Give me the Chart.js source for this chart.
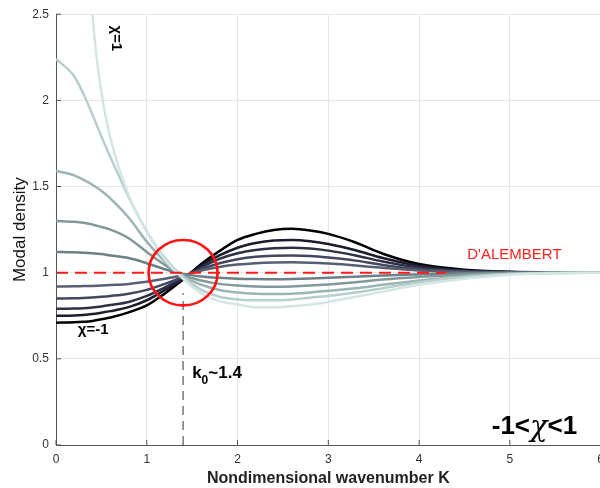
<!DOCTYPE html>
<html>
<head>
<meta charset="utf-8">
<script src="https://cdn.jsdelivr.net/npm/chart.js@4.4.1/dist/chart.umd.min.js"></script>
<style>
  html, body { margin: 0; padding: 0; background: #fff; overflow: hidden; width: 600px; height: 488px; }
  canvas { display: block; }
</style>
</head>
<body>
<canvas id="modal" width="611" height="488"></canvas>
<script>
// Wavenumber grid
const kGrid = [0, 0.2, 0.3, 0.4, 0.5, 0.6, 0.8, 1.0, 1.2, 1.4, 1.6, 1.8, 2.0, 2.2, 2.4, 2.6, 2.8, 3.0, 3.3, 3.6, 4.0, 4.5, 5.0, 5.5, 6.0];

// Modal density curves, one per chi
const chiM10 = [0.71, 0.712, 0.715, 0.72, 0.73, 0.74, 0.77, 0.81, 0.88, 0.96, 1.05, 1.125, 1.19, 1.225, 1.248, 1.255, 1.245, 1.225, 1.175, 1.11, 1.05, 1.017, 1.005, 1.001, 1.0];
const chiM08 = [0.75, 0.752, 0.755, 0.76, 0.768, 0.777, 0.80, 0.84, 0.90, 0.965, 1.04, 1.10, 1.145, 1.172, 1.187, 1.19, 1.183, 1.167, 1.13, 1.085, 1.04, 1.013, 1.004, 1.001, 1.0];
const chiM06 = [0.79, 0.792, 0.794, 0.798, 0.804, 0.812, 0.83, 0.865, 0.915, 0.97, 1.03, 1.08, 1.113, 1.132, 1.142, 1.145, 1.14, 1.128, 1.10, 1.065, 1.03, 1.01, 1.003, 1.001, 1.0];
const chiM04 = [0.85, 0.851, 0.853, 0.856, 0.86, 0.865, 0.878, 0.90, 0.935, 0.975, 1.02, 1.055, 1.078, 1.092, 1.098, 1.10, 1.097, 1.088, 1.07, 1.045, 1.02, 1.007, 1.002, 1.0, 1.0];
const chiM02 = [0.92, 0.921, 0.922, 0.923, 0.925, 0.928, 0.935, 0.947, 0.965, 0.985, 1.012, 1.033, 1.047, 1.055, 1.059, 1.06, 1.058, 1.053, 1.042, 1.028, 1.013, 1.004, 1.001, 1.0, 1.0];
const chiP02 = [1.12, 1.118, 1.116, 1.113, 1.108, 1.10, 1.085, 1.055, 1.02, 0.993, 0.978, 0.97, 0.965, 0.963, 0.962, 0.963, 0.966, 0.97, 0.977, 0.984, 0.99, 0.996, 0.999, 1.0, 1.0];
const chiP04 = [1.30, 1.295, 1.29, 1.28, 1.265, 1.25, 1.20, 1.12, 1.045, 0.985, 0.955, 0.935, 0.925, 0.92, 0.918, 0.92, 0.925, 0.932, 0.945, 0.96, 0.975, 0.99, 0.997, 0.999, 1.0];
const chiP06 = [1.59, 1.565, 1.54, 1.51, 1.475, 1.43, 1.32, 1.18, 1.065, 0.98, 0.93, 0.90, 0.885, 0.878, 0.876, 0.878, 0.885, 0.895, 0.91, 0.93, 0.955, 0.98, 0.993, 0.998, 1.0];
const chiP08 = [2.24, 2.14, 2.04, 1.92, 1.79, 1.67, 1.44, 1.24, 1.085, 0.975, 0.90, 0.86, 0.845, 0.84, 0.84, 0.845, 0.855, 0.865, 0.885, 0.91, 0.945, 0.975, 0.992, 0.998, 1.0];
const chiP10 = [null, null, 3.6, 2.52, 2.05, 1.78, 1.45, 1.24, 1.075, 0.965, 0.88, 0.835, 0.815, 0.80, 0.80, 0.805, 0.815, 0.83, 0.86, 0.89, 0.93, 0.965, 0.988, 0.997, 1.0];

const curves = [chiM10, chiM08, chiM06, chiM04, chiM02, chiP02, chiP04, chiP06, chiP08, chiP10];
const curveColors = ['#000000', '#1c1c2e', '#2e3046', '#41475e', '#575f72', '#6d7f87', '#82999b', '#9ab5b2', '#b6cfcc', '#d3e6e3'];

// Reference lines
const dalembertK = [0, 4.3];
const dalembertY = [1, 1];
const k0Line = [1.4, 1.4];
const k0LineY = [0, 0.88];

const xTicks = [0, 1, 2, 3, 4, 5, 6];
const yTicks = [0, 0.5, 1, 1.5, 2, 2.5];

const datasets = curves.map((vals, i) => ({
    data: kGrid.map((k, j) => ({ x: k, y: vals[j] })),
    borderColor: curveColors[i],
    borderWidth: 2.5,
    pointRadius: 0,
    fill: false,
    cubicInterpolationMode: 'monotone',
    order: curves.length - i + 1
}));

datasets.push({
    data: dalembertK.map((k, j) => ({ x: k, y: dalembertY[j] })),
    borderColor: '#ff1a1a',
    borderWidth: 2,
    borderDash: [12, 7],
    pointRadius: 0,
    order: 0
});
datasets.push({
    data: k0Line.map((k, j) => ({ x: k, y: k0LineY[j] })),
    borderColor: '#555555',
    borderWidth: 1.2,
    borderDash: [9, 6],
    pointRadius: 0,
    order: 0
});

const FONT = '"Liberation Sans", Arial, sans-serif';

// Annotations: circle, texts, inward ticks
const overlay = {
    id: 'overlay',
    afterDatasetsDraw(chart) {
        const ctx = chart.ctx;
        const xs = chart.scales.x, ys = chart.scales.y;
        const X = v => xs.getPixelForValue(v), Y = v => ys.getPixelForValue(v);

        // red circle around the crossing point
        ctx.save();
        ctx.strokeStyle = '#ff1414';
        ctx.lineWidth = 2.6;
        ctx.beginPath();
        ctx.ellipse(X(1.4), Y(1.0), X(1.4 + 0.38) - X(1.4), Y(1.0) - Y(1.0 + 0.19), 0, 0, Math.PI * 2);
        ctx.stroke();

        // inward ticks
        const area = chart.chartArea;
        ctx.strokeStyle = '#555';
        ctx.lineWidth = 1;
        xTicks.forEach(t => {
            ctx.beginPath(); ctx.moveTo(X(t), area.bottom); ctx.lineTo(X(t), area.bottom - 5); ctx.stroke();
        });
        yTicks.forEach(t => {
            ctx.beginPath(); ctx.moveTo(area.left, Y(t)); ctx.lineTo(area.left + 5, Y(t)); ctx.stroke();
        });

        // labels
        ctx.fillStyle = '#ff2020';
        ctx.font = '15px ' + FONT;
        ctx.textAlign = 'center';
        ctx.textBaseline = 'middle';
        ctx.fillText("D'ALEMBERT", X(5.05), Y(1.105));

        ctx.fillStyle = '#000';
        ctx.font = 'bold 15px ' + FONT;
        ctx.fillText('χ=-1', X(0.41), Y(0.67));

        ctx.save();
        ctx.translate(X(0.66), Y(2.36));
        ctx.rotate(Math.PI / 2);
        ctx.fillText('χ=1', 0, 0);
        ctx.restore();

        // k0~1.4
        ctx.textAlign = 'left';
        ctx.textBaseline = 'alphabetic';
        ctx.font = 'bold 17px ' + FONT;
        let x0 = X(1.5), y0 = Y(0.39);
        ctx.fillText('k', x0, y0);
        x0 += ctx.measureText('k').width;
        ctx.font = 'bold 12px ' + FONT;
        ctx.fillText('0', x0, y0 + 6);
        x0 += ctx.measureText('0').width;
        ctx.font = 'bold 17px ' + FONT;
        ctx.fillText('~1.4', x0, y0);

        // -1<chi<1
        ctx.textBaseline = 'middle';
        ctx.textAlign = 'left';
        let xr = X(4.8), yr = Y(0.105);
        ctx.font = 'bold 26px ' + FONT;
        ctx.fillText('-1<', xr, yr);
        xr += ctx.measureText('-1<').width;
        ctx.font = 'italic 29px "DejaVu Serif", serif';
        ctx.fillText('χ', xr, yr + 2);
        xr += ctx.measureText('χ').width;
        ctx.font = 'bold 26px ' + FONT;
        ctx.fillText('<1', xr, yr);
        ctx.restore();
    }
};

new Chart(document.getElementById('modal').getContext('2d'), {
    type: 'line',
    data: { datasets: datasets },
    options: {
        responsive: false,
        animation: false,
        layout: { padding: { top: 14, right: 0, left: 10, bottom: 0 } },
        plugins: {
            legend: { display: false },
            tooltip: { enabled: false }
        },
        scales: {
            x: {
                type: 'linear',
                min: 0,
                max: 6,
                afterFit: s => { s.height = 43; },
                afterBuildTicks: s => { s.ticks = xTicks.map(v => ({ value: v })); },
                grid: { color: '#e6e6e6', drawTicks: false },
                border: { color: '#555', width: 1 },
                ticks: { color: '#333', font: { size: 12, family: FONT }, padding: 7 },
                title: {
                    display: true,
                    text: 'Nondimensional wavenumber K',
                    color: '#222',
                    font: { size: 16, weight: 'bold', family: FONT },
                    padding: { top: 0, bottom: 0 }
                }
            },
            y: {
                min: 0,
                max: 2.5,
                afterFit: s => { s.width = 46; },
                afterBuildTicks: s => { s.ticks = yTicks.map(v => ({ value: v })); },
                grid: { color: '#e6e6e6', drawTicks: false },
                border: { color: '#555', width: 1 },
                ticks: {
                    color: '#333',
                    font: { size: 12, family: FONT },
                    padding: 7,
                    callback: v => String(v)
                },
                title: {
                    display: true,
                    text: 'Modal density',
                    color: '#111',
                    font: { size: 17, family: FONT },
                    padding: { top: 0, bottom: 4 }
                }
            }
        }
    },
    plugins: [overlay]
});
</script>
</body>
</html>
